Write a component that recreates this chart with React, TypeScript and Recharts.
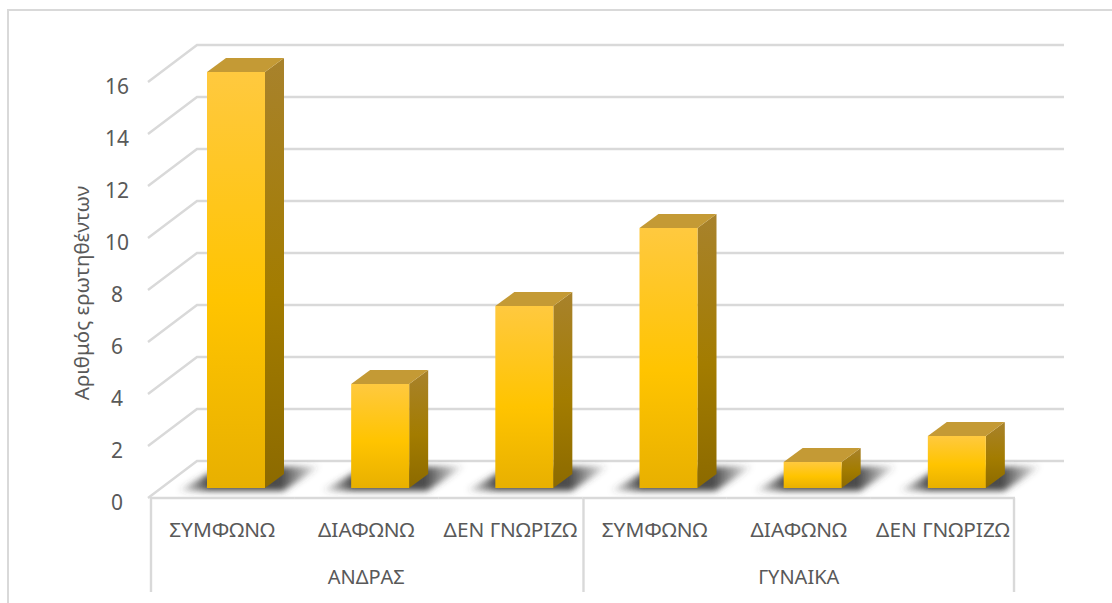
import { BarChart, Bar, XAxis, YAxis, CartesianGrid } from "recharts";

const answers = ["ΣΥΜΦΩΝΩ", "ΔΙΑΦΩΝΩ", "ΔΕΝ ΓΝΩΡΙΖΩ", "ΣΥΜΦΩΝΩ", "ΔΙΑΦΩΝΩ", "ΔΕΝ ΓΝΩΡΙΖΩ"];
const groups = ["ΑΝΔΡΑΣ", "ΑΝΔΡΑΣ", "ΑΝΔΡΑΣ", "ΓΥΝΑΙΚΑ", "ΓΥΝΑΙΚΑ", "ΓΥΝΑΙΚΑ"];
const values = [16, 4, 7, 10, 1, 2];
const yTicks = [0, 2, 4, 6, 8, 10, 12, 14, 16];

const data = answers.map((a, i) => ({ key: i, answer: a, group: groups[i], value: values[i] }));

const FONT = "'Noto Sans', sans-serif";
const TEXT = "#595959";
const LINE = "#d9d9d9";
const DX = 19;
const DY = 14;
const CAT_W = 144.2;

function Bar3D({ x, y, width, height }: any) {
  const r = x + width;
  const b = y + height;
  return (
    <g>
      <polygon
        points={`${x - 30},${b + 3} ${x + 12},${b - 20} ${r + 56},${b - 22} ${r + 18},${b + 3}`}
        fill="url(#shadowFill)"
        filter="url(#floorShadow)"
      />
      <polygon points={`${r},${y} ${r + DX},${y - DY} ${r + DX},${b - DY} ${r},${b}`} fill="url(#sideFill)" />
      <polygon points={`${x},${y} ${x + DX},${y - DY} ${r + DX},${y - DY} ${r},${y}`} fill="#c49a35" />
      <rect x={x} y={y} width={width} height={height} fill="url(#frontFill)" />
    </g>
  );
}

// wall line + diagonal going to the front of the floor
function GridLine({ x1, y1, x2 }: any) {
  return (
    <polyline
      points={`${x1 - 16},${y1 + 10} ${x1 + 33},${y1 - 27} ${x2 + 35},${y1 - 27}`}
      fill="none"
      stroke={LINE}
      strokeWidth={2.4}
    />
  );
}

function YTick({ x, y, payload }: any) {
  return (
    <text x={x - 41} y={y + 16} dy={6} textAnchor="middle" fontFamily={FONT} fontSize={21} fill={TEXT}>
      {payload.value}
    </text>
  );
}

function XTick({ x, y, index }: any) {
  const left = x - CAT_W / 2;
  const right = x + CAT_W / 2;
  return (
    <g>
      <text x={x - 14} y={y + 41} textAnchor="middle" fontFamily={FONT} fontSize={20.8} fill={TEXT}>
        {answers[index]}
      </text>
      {index % 3 === 1 && (
        <text x={x - 14} y={y + 88} textAnchor="middle" fontFamily={FONT} fontSize={20} fill={TEXT}>
          {groups[index]}
        </text>
      )}
      {index % 3 === 0 && <line x1={left - 13} y1={y + 2} x2={left - 13} y2={y + 96} stroke={LINE} strokeWidth={2.4} />}
      {index === 5 && <line x1={right - 15} y1={y + 2} x2={right - 15} y2={y + 96} stroke={LINE} strokeWidth={2.4} />}
      <line x1={left - 14} y1={y + 2} x2={right - 14} y2={y + 2} stroke={LINE} strokeWidth={2.4} />
    </g>
  );
}

export default function App() {
  return (
    <div style={{ position: "absolute", left: 0, top: 0, width: 1112, height: 603, background: "#fff", overflow: "hidden" }}>
      <div style={{ position: "absolute", left: 7, top: 9, width: 1200, height: 700, border: "2px solid #d9d9d9" }} />
      <div style={{ position: "absolute", left: 0, top: 0 }}>
        <BarChart
          width={1112}
          height={603}
          data={data}
          margin={{ top: 72, right: 83, bottom: 0, left: 0 }}
          barCategoryGap={43}
        >
          <defs>
            <linearGradient id="frontFill" x1="0" y1="0" x2="0" y2="1">
              <stop offset="0%" stopColor="#ffc93f" />
              <stop offset="55%" stopColor="#ffc400" />
              <stop offset="100%" stopColor="#e8b000" />
            </linearGradient>
            <linearGradient id="sideFill" x1="0" y1="0" x2="0" y2="1">
              <stop offset="0%" stopColor="#a8822c" />
              <stop offset="55%" stopColor="#a37c00" />
              <stop offset="100%" stopColor="#8c6a00" />
            </linearGradient>
            <linearGradient id="shadowFill" x1="0" y1="0" x2="1" y2="0">
              <stop offset="0%" stopColor="#404040" stopOpacity={0} />
              <stop offset="22%" stopColor="#404040" stopOpacity={0.95} />
              <stop offset="72%" stopColor="#404040" stopOpacity={0.95} />
              <stop offset="100%" stopColor="#404040" stopOpacity={0} />
            </linearGradient>
            <filter id="floorShadow" x="-30%" y="-100%" width="160%" height="300%">
              <feGaussianBlur stdDeviation="3" />
            </filter>
          </defs>
          <CartesianGrid vertical={false} horizontal={(p: any) => <GridLine key={p.key} {...p} />} />
          <XAxis
            dataKey="key"
            axisLine={false}
            tickLine={false}
            tick={<XTick />}
            height={115}
            interval={0}
          />
          <YAxis
            type="number"
            domain={[0, 16]}
            ticks={yTicks}
            axisLine={false}
            tickLine={false}
            tick={<YTick />}
            width={164}
            tickMargin={0}
            label={{
              value: "Αριθμός ερωτηθέντων",
              angle: -90,
              position: "center",
              dy: 13,
              fontFamily: FONT,
              fontSize: 20.6,
              fill: TEXT,
            }}
          />
          <Bar dataKey="value" isAnimationActive={false} shape={<Bar3D />} />
        </BarChart>
      </div>
    </div>
  );
}
